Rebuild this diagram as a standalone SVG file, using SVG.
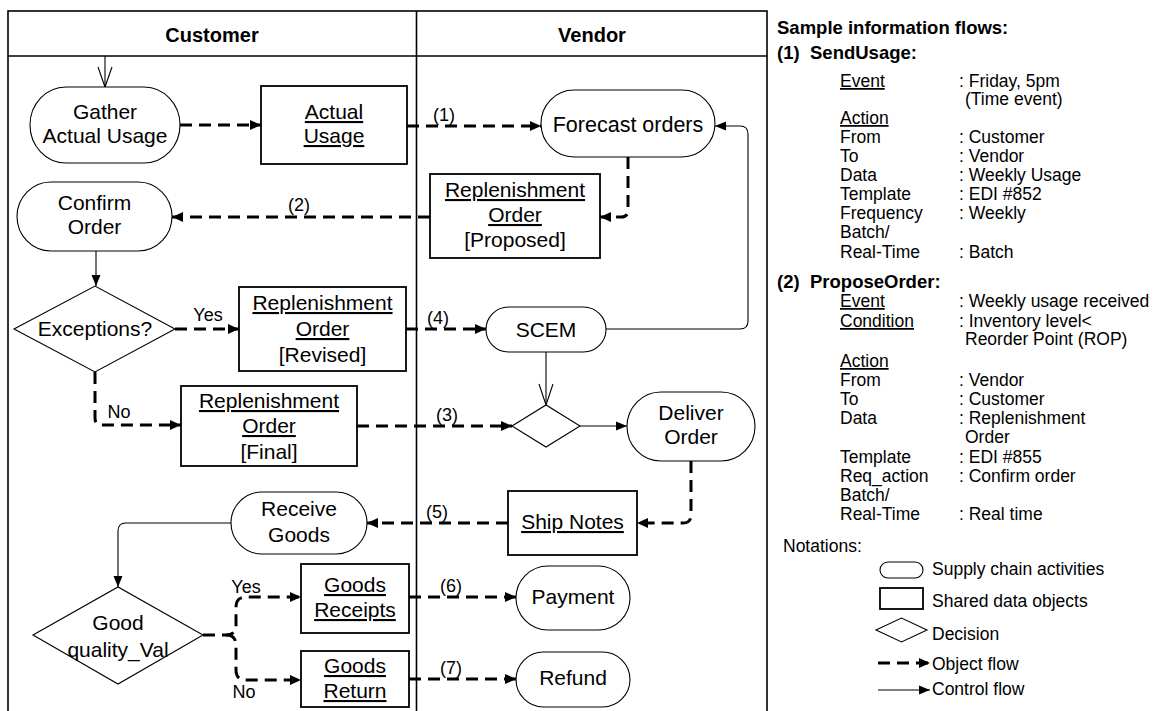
<svg xmlns="http://www.w3.org/2000/svg" width="1158" height="711" viewBox="0 0 1158 711">
<style>
.act{fill:#fff;stroke:#000;stroke-width:1.1}
.obj{fill:#fff;stroke:#000;stroke-width:1.8}
.dec{fill:#fff;stroke:#000;stroke-width:1.1}
.of{fill:none;stroke:#000;stroke-width:3;stroke-dasharray:12 7}
.cf{fill:none;stroke:#000;stroke-width:1.1}
.frame{fill:none;stroke:#000;stroke-width:1.6}
text{font-family:"Liberation Sans",Arial,sans-serif;fill:#000}
.t{font-size:21px;text-anchor:middle}
.h{font-size:20px;font-weight:bold;text-anchor:middle}
.u{text-decoration:underline}
.lbl{font-size:18px;text-anchor:middle}
.p{font-size:17.5px}
.pb{font-size:18.5px;font-weight:bold}
</style>
<defs>
<marker id="ah" markerUnits="userSpaceOnUse" markerWidth="12" markerHeight="10" refX="11" refY="5" orient="auto">
<path d="M0,0 L11,5 L0,10 z" fill="#000"/>
</marker>
<marker id="ahs" markerUnits="userSpaceOnUse" markerWidth="12" markerHeight="10" refX="11" refY="5" orient="auto">
<path d="M0,0.5 L11,5 L0,9.5 z" fill="#000"/>
</marker>
</defs>
<rect width="1158" height="711" fill="#fff"/>

<g id="lanes">
<rect class="frame" x="8" y="11" width="759" height="712"/>
<line class="frame" x1="8" y1="56" x2="767" y2="56"/>
<line class="frame" x1="416.5" y1="11" x2="416.5" y2="715"/>
<text class="h" x="212" y="42">Customer</text>
<text class="h" x="592" y="42">Vendor</text>
</g>

<g id="connectors">
<path class="cf" d="M105,56 V87"/>
<path class="cf" d="M98,67 L105,87 L112,67"/>
<path class="of" d="M180,125 H261" marker-end="url(#ah)"/>
<path class="of" d="M407,126 H541" marker-end="url(#ah)"/>
<text class="lbl" x="444" y="121">(1)</text>
<path class="of" d="M628,157 V210 Q628,217 621,217 H600" marker-end="url(#ah)"/>
<path class="of" d="M430,217 H172" marker-end="url(#ah)"/>
<text class="lbl" x="299" y="211">(2)</text>
<path class="cf" d="M96,251 V286" marker-end="url(#ahs)"/>
<path class="of" d="M175,329 H239" marker-end="url(#ah)"/>
<text class="lbl" x="208" y="321">Yes</text>
<path class="of" d="M406,329 H486" marker-end="url(#ah)"/>
<text class="lbl" x="438" y="324">(4)</text>
<path class="cf" d="M606,329 H740 Q748,329 748,321 V134 Q748,126 740,126 H715" marker-end="url(#ahs)"/>
<path class="cf" d="M546,352 V405"/>
<path class="cf" d="M539,384 L546,405 L553,384"/>
<path class="of" d="M95,372 V418 Q95,425 102,425 H181" marker-end="url(#ah)"/>
<text class="lbl" x="119" y="418">No</text>
<path class="of" d="M357,426 H512" marker-end="url(#ah)"/>
<text class="lbl" x="447" y="421">(3)</text>
<path class="cf" d="M580,426 H627" marker-end="url(#ahs)"/>
<path class="of" d="M691,461 V515 Q691,523 683,523 H637" marker-end="url(#ah)"/>
<path class="of" d="M508,523 H367" marker-end="url(#ah)"/>
<text class="lbl" x="437" y="518">(5)</text>
<path class="cf" d="M231,523 H126 Q118,523 118,531 V587" marker-end="url(#ahs)"/>
<path class="of" d="M203,635 H226 Q236,635 236,625 V607 Q236,597 246,597 H301" marker-end="url(#ah)"/>
<path class="of" d="M226,635 Q236,635 236,645 V670 Q236,680 246,680 H301" marker-end="url(#ah)"/>
<text class="lbl" x="246" y="593">Yes</text>
<text class="lbl" x="244" y="698">No</text>
<path class="of" d="M409,597 H516" marker-end="url(#ah)"/>
<text class="lbl" x="451" y="592">(6)</text>
<path class="of" d="M409,679 H516" marker-end="url(#ah)"/>
<text class="lbl" x="451" y="674">(7)</text>
</g>

<g id="gather">
<rect class="act" x="30" y="87" width="150" height="76" rx="36" ry="38"/>
<text class="t" x="105" y="119">Gather</text>
<text class="t" x="105" y="143">Actual Usage</text>
</g>
<g id="actual-usage">
<rect class="obj" x="261" y="86" width="146" height="78"/>
<text class="t u" x="334" y="119">Actual</text>
<text class="t u" x="334" y="143">Usage</text>
</g>
<g id="forecast">
<rect class="act" x="541" y="90" width="174" height="67" rx="33" ry="33.5"/>
<text class="t" x="628" y="132" style="font-size:21.5px">Forecast orders</text>
</g>
<g id="repl-proposed">
<rect class="obj" x="430" y="174" width="170" height="84"/>
<text class="t u" x="515" y="197">Replenishment</text>
<text class="t u" x="515" y="222">Order</text>
<text class="t" x="515" y="247">[Proposed]</text>
</g>
<g id="confirm">
<rect class="act" x="17" y="182" width="155" height="69" rx="34" ry="34.5"/>
<text class="t" x="94.5" y="210">Confirm</text>
<text class="t" x="94.5" y="234">Order</text>
</g>
<g id="exceptions">
<polygon class="dec" points="14,329 95,286 175,329 95,372"/>
<text class="t" x="95" y="336">Exceptions?</text>
</g>
<g id="repl-revised">
<rect class="obj" x="239" y="287" width="167" height="84"/>
<text class="t u" x="322.5" y="310">Replenishment</text>
<text class="t u" x="322.5" y="336">Order</text>
<text class="t" x="322.5" y="362">[Revised]</text>
</g>
<g id="scem">
<rect class="act" x="486" y="307" width="120" height="45" rx="22.5"/>
<text class="t" x="546" y="337">SCEM</text>
</g>
<g id="repl-final">
<rect class="obj" x="181" y="386" width="176" height="80"/>
<text class="t u" x="269" y="408">Replenishment</text>
<text class="t u" x="269" y="433">Order</text>
<text class="t" x="269" y="459">[Final]</text>
</g>
<g id="merge">
<polygon class="dec" points="512,426 546,405 580,426 546,447"/>
</g>
<g id="deliver">
<rect class="act" x="627" y="392" width="128" height="69" rx="34" ry="34.5"/>
<text class="t" x="691" y="420">Deliver</text>
<text class="t" x="691" y="444">Order</text>
</g>
<g id="ship-notes">
<rect class="obj" x="508" y="491" width="129" height="64"/>
<text class="t u" x="572.5" y="529">Ship Notes</text>
</g>
<g id="receive">
<rect class="act" x="231" y="492" width="136" height="62" rx="31"/>
<text class="t" x="299" y="516">Receive</text>
<text class="t" x="299" y="542">Goods</text>
</g>
<g id="quality">
<polygon class="dec" points="33,635 118,587 203,635 118,684"/>
<text class="t" x="118" y="630">Good</text>
<text class="t" x="118" y="657">quality_Val</text>
</g>
<g id="goods-receipts">
<rect class="obj" x="301" y="564" width="108" height="69"/>
<text class="t u" x="355" y="592">Goods</text>
<text class="t u" x="355" y="617">Receipts</text>
</g>
<g id="goods-return">
<rect class="obj" x="301" y="651" width="108" height="56"/>
<text class="t u" x="355" y="673">Goods</text>
<text class="t u" x="355" y="698">Return</text>
</g>
<g id="payment">
<rect class="act" x="516" y="566" width="114" height="64" rx="32"/>
<text class="t" x="573" y="604">Payment</text>
</g>
<g id="refund">
<rect class="act" x="516" y="652" width="114" height="55" rx="27.5"/>
<text class="t" x="573" y="685">Refund</text>
</g>

<g id="info-panel">
<text class="pb" x="777" y="34">Sample information flows:</text>
<text class="pb" x="777" y="59">(1)</text>
<text class="pb" x="810" y="59">SendUsage:</text>
<text class="p u" x="840" y="87">Event</text>
<text class="p" x="959" y="87">: Friday, 5pm</text>
<text class="p" x="965" y="105">(Time event)</text>
<text class="p u" x="840" y="124">Action</text>
<text class="p" x="840" y="143">From</text>
<text class="p" x="959" y="143">: Customer</text>
<text class="p" x="840" y="162">To</text>
<text class="p" x="959" y="162">: Vendor</text>
<text class="p" x="840" y="181">Data</text>
<text class="p" x="959" y="181">: Weekly Usage</text>
<text class="p" x="840" y="200">Template</text>
<text class="p" x="959" y="200">: EDI #852</text>
<text class="p" x="840" y="219">Frequency</text>
<text class="p" x="959" y="219">: Weekly</text>
<text class="p" x="840" y="238">Batch/</text>
<text class="p" x="840" y="258">Real-Time</text>
<text class="p" x="959" y="258">: Batch</text>

<text class="pb" x="777" y="288">(2)</text>
<text class="pb" x="810" y="288">ProposeOrder:</text>
<text class="p u" x="840" y="307">Event</text>
<text class="p" x="959" y="307">: Weekly usage received</text>
<text class="p u" x="840" y="327">Condition</text>
<text class="p" x="959" y="327">: Inventory level&lt;</text>
<text class="p" x="965" y="345">Reorder Point (ROP)</text>
<text class="p u" x="840" y="367">Action</text>
<text class="p" x="840" y="386">From</text>
<text class="p" x="959" y="386">: Vendor</text>
<text class="p" x="840" y="405">To</text>
<text class="p" x="959" y="405">: Customer</text>
<text class="p" x="840" y="424">Data</text>
<text class="p" x="959" y="424">: Replenishment</text>
<text class="p" x="965" y="443">Order</text>
<text class="p" x="840" y="463">Template</text>
<text class="p" x="959" y="463">: EDI #855</text>
<text class="p" x="840" y="482">Req_action</text>
<text class="p" x="959" y="482">: Confirm order</text>
<text class="p" x="840" y="501">Batch/</text>
<text class="p" x="840" y="520">Real-Time</text>
<text class="p" x="959" y="520">: Real time</text>
</g>

<g id="legend">
<text class="p" x="783" y="552">Notations:</text>
<rect class="act" x="880" y="562" width="43" height="16" rx="8"/>
<text class="p" x="932" y="575">Supply chain activities</text>
<rect class="obj" x="880" y="588" width="43" height="21"/>
<text class="p" x="932" y="607">Shared data objects</text>
<polygon class="dec" points="876,630 901.5,618 927,630 901.5,642"/>
<text class="p" x="932" y="640">Decision</text>
<path class="of" d="M878,663 H930" stroke-dasharray="10 6" marker-end="url(#ah)"/>
<text class="p" x="932" y="670">Object flow</text>
<path class="cf" d="M878,690 H930" marker-end="url(#ahs)"/>
<text class="p" x="932" y="695">Control flow</text>
</g>
</svg>
